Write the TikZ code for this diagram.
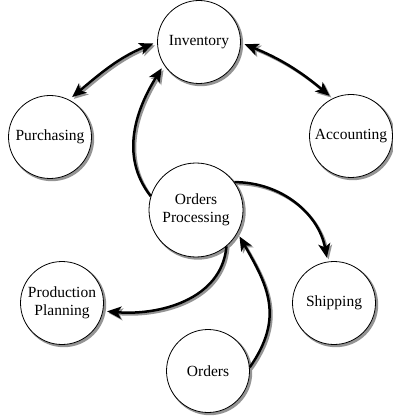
\documentclass[tikz,border=0pt]{standalone}
\usepackage{fontspec}
\setmainfont{Liberation Serif}
\usetikzlibrary{arrows.meta,backgrounds}
\definecolor{shadowgray}{gray}{0.58}
\tikzset{
  x=1pt,y=1pt,
  proc/.style={circle,draw=black,line width=0.8pt,fill=white,inner sep=0pt,
    minimum size=83pt,align=center,font=\fontsize{15.5}{18}\selectfont},
  bigproc/.style={proc,minimum size=94pt},
  tip/.tip={Stealth[length=14pt,width=12pt,inset=3.5pt]},
  oneway/.style={-tip,shorten >=4pt},
  twoway/.style={tip-tip,shorten >=4pt,shorten <=4pt},
  mainline/.style={line width=2.5pt,draw=black},
  shadowline/.style={line width=2.5pt,draw=shadowgray},
  circshadow/.style={fill=shadowgray},
}
% #1 = style, #2 = offset
\newcommand\allconnectors[2]{%
  \draw[#1,twoway] ([shift={#2}]pur.63) to[out=40,in=202] ([shift={#2}]inv.180);
  \draw[#1,twoway] ([shift={#2}]inv.359) to[out=-22,in=140] ([shift={#2}]acc.116);
  \draw[#1,oneway] ([shift={#2}]op.163) to[out=128,in=238] ([shift={#2}]inv.213);
  \draw[#1,oneway] ([shift={#2}]op.36) to[out=0,in=100] ([shift={#2}]ship.99);
  \draw[#1,oneway] ([shift={#2}]op.310) to[out=265,in=355] ([shift={#2}]pp.349);
  \draw[#1,oneway] ([shift={#2}]ord.5) to[out=55,in=300,looseness=1.15] ([shift={#2}]op.331);
}
\begin{document}
\begin{tikzpicture}
\useasboundingbox (0,0) rectangle (392,-419);
\node[proc] (inv) at (199,-42) {Inventory};
\node[proc] (pur) at (50,-137) {Purchasing};
\node[proc] (acc) at (351,-136) {Accounting};
\node[bigproc] (op) at (196,-210) {Orders\\Processing};
\node[proc] (pp) at (62,-303) {Production\\Planning};
\node[proc] (ship) at (334,-303) {Shipping};
\node[proc] (ord) at (208,-371) {Orders};
\begin{scope}[on background layer]
  \foreach \n/\r in {inv/42.4,pur/42.4,acc/42.4,op/47.9,pp/42.4,ship/42.4,ord/42.4}
    \fill[circshadow] ([shift={(1.8pt,-1.8pt)}]\n.center) circle[radius=\r];
  \allconnectors{shadowline}{(1.8pt,-1.8pt)}
\end{scope}
\allconnectors{mainline}{(0pt,0pt)}
\end{tikzpicture}
\end{document}
